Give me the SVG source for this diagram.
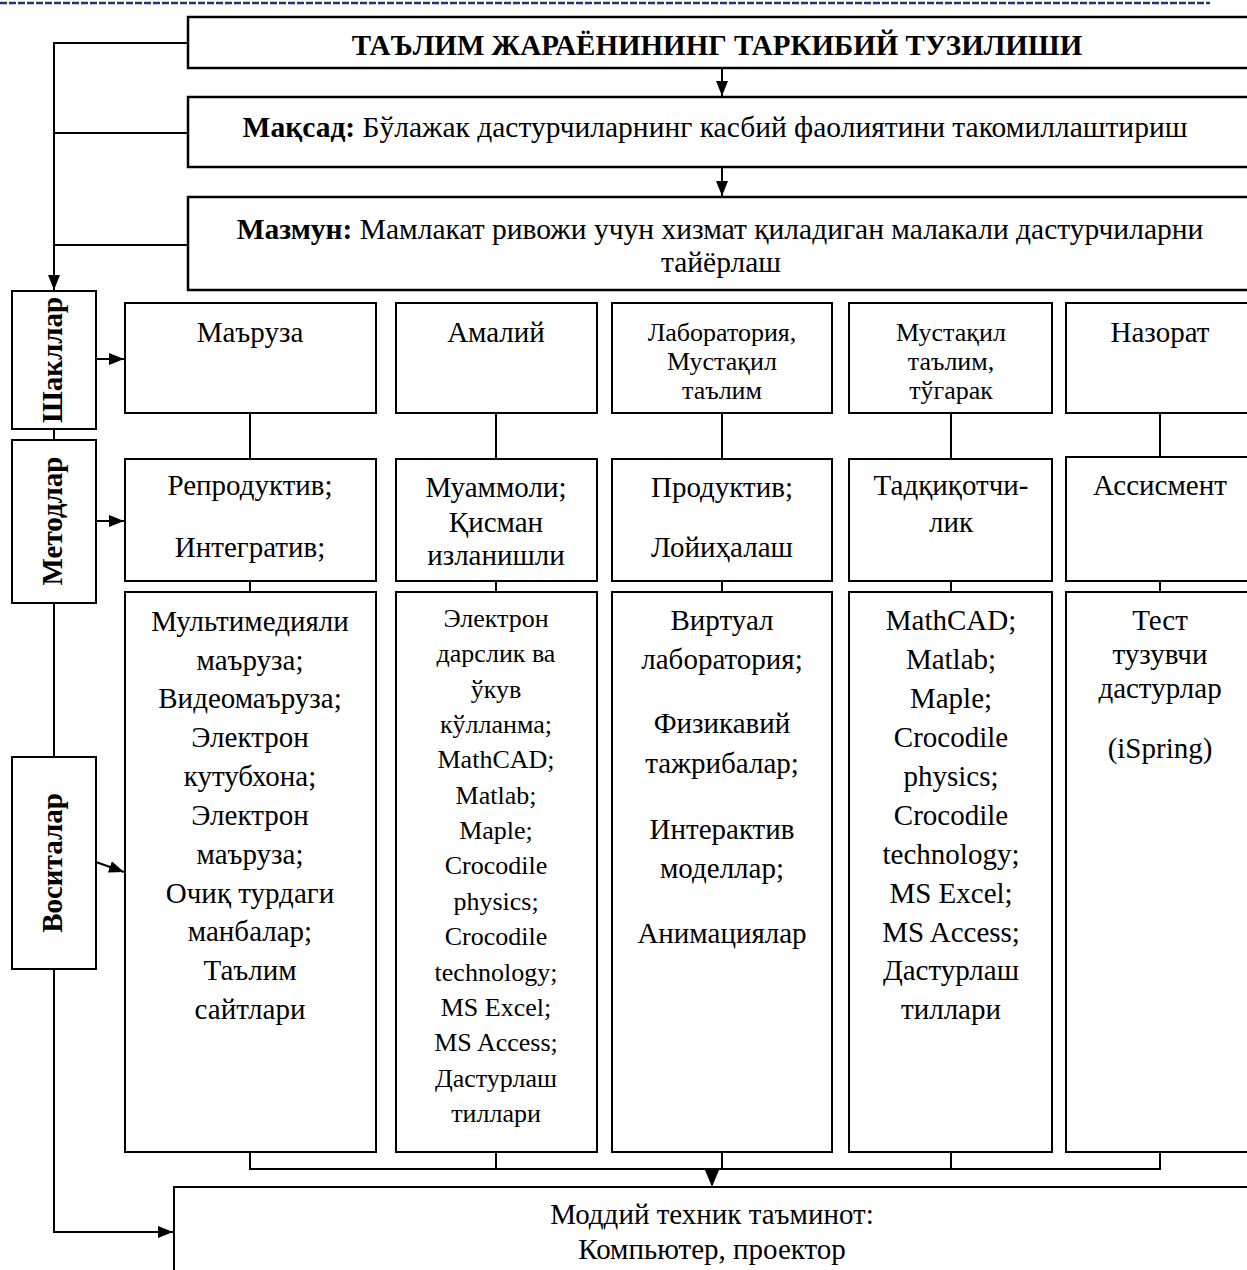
<svg xmlns="http://www.w3.org/2000/svg" width="1247" height="1270" viewBox="0 0 1247 1270">
<style>
.box{fill:#fff;stroke:#000;stroke-width:2}
.tb{fill:#fff;stroke:#000;stroke-width:2.5}
text{font-family:"Liberation Serif","Times New Roman",serif;font-size:29px;text-anchor:middle;fill:#000}
.s{font-size:26px}
.m{font-size:29.5px}
.b{font-weight:bold}
.c{stroke:#000;stroke-width:2;fill:none}
</style>
<defs>
<marker id="ah" viewBox="0 0 10 10" refX="10" refY="5" markerUnits="userSpaceOnUse" markerWidth="15" markerHeight="12" preserveAspectRatio="none" orient="auto">
<path d="M0,0 L10,5 L0,10 z" fill="#000"/>
</marker>
</defs>
<rect width="1247" height="1270" fill="#fff"/>
<line x1="0" y1="3" x2="1210" y2="3" stroke="#1F3864" stroke-width="2.5" stroke-dasharray="7 2"/>

<g id="connectors">
<path class="c" d="M188,43 H54 V290" marker-end="url(#ah)" stroke-width="2.5"/>
<line class="c" x1="54" y1="133" x2="188" y2="133"/>
<line class="c" x1="54" y1="245" x2="188" y2="245"/>
<line class="c" x1="722" y1="68" x2="722" y2="96" marker-end="url(#ah)"/>
<line class="c" x1="722" y1="167" x2="722" y2="196" marker-end="url(#ah)"/>
<line class="c" x1="54" y1="429" x2="54" y2="440"/>
<line class="c" x1="54" y1="603" x2="54" y2="757"/>
<path class="c" d="M54,969 V1232 H173" marker-end="url(#ah)"/>
<line class="c" x1="96" y1="359" x2="124" y2="359" marker-end="url(#ah)" stroke-width="2.5"/>
<line class="c" x1="96" y1="521" x2="124" y2="521" marker-end="url(#ah)" stroke-width="2.5"/>
<line class="c" x1="96" y1="862" x2="124" y2="872" marker-end="url(#ah)" stroke-width="2.5"/>
<line class="c" x1="250" y1="413" x2="250" y2="459"/>
<line class="c" x1="496" y1="413" x2="496" y2="459"/>
<line class="c" x1="722" y1="413" x2="722" y2="459"/>
<line class="c" x1="951" y1="413" x2="951" y2="459"/>
<line class="c" x1="1160" y1="413" x2="1160" y2="457"/>
<line class="c" x1="250" y1="581" x2="250" y2="592"/>
<line class="c" x1="496" y1="581" x2="496" y2="592"/>
<line class="c" x1="722" y1="581" x2="722" y2="592"/>
<line class="c" x1="951" y1="581" x2="951" y2="592"/>
<line class="c" x1="1160" y1="581" x2="1160" y2="592"/>
<path class="c" d="M250,1152 V1169 H1160 V1152"/>
<line class="c" x1="496" y1="1152" x2="496" y2="1169"/>
<line class="c" x1="722" y1="1152" x2="722" y2="1169"/>
<line class="c" x1="951" y1="1152" x2="951" y2="1169"/>
<line class="c" x1="496" y1="1169" x2="951" y2="1169" stroke-width="3.5"/>
<polygon points="705,1170 719,1170 712,1187" fill="#000"/>
</g>

<g id="title"><rect class="tb" x="188" y="17" width="1090" height="51"/>
<text class="b" x="717" y="55">ТАЪЛИМ ЖАРАЁНИНИНГ ТАРКИБИЙ ТУЗИЛИШИ</text></g>

<g id="maqsad"><rect class="tb" x="188" y="97" width="1090" height="70"/>
<text class="m" x="715" y="137"><tspan class="b">Мақсад:</tspan> Бўлажак дастурчиларнинг касбий фаолиятини такомиллаштириш</text></g>

<g id="mazmun"><rect class="tb" x="188" y="197" width="1090" height="93"/>
<text class="m" x="720" y="239"><tspan class="b">Мазмун:</tspan> Мамлакат ривожи учун хизмат қиладиган малакали дастурчиларни</text>
<text class="m" x="721" y="272">тайёрлаш</text></g>

<g id="shakllar"><rect class="box" x="12" y="291" width="84" height="138"/>
<text class="b" transform="translate(62,360) rotate(-90)">Шакллар</text></g>
<g id="metodlar"><rect class="box" x="12" y="440" width="84" height="163"/>
<text class="b" transform="translate(62,521) rotate(-90)">Методлар</text></g>
<g id="vositalar"><rect class="box" x="12" y="757" width="84" height="212"/>
<text class="b" transform="translate(62,863) rotate(-90)">Воситалар</text></g>

<g id="maruza"><rect class="box" x="125" y="303" width="251" height="110"/>
<text x="250" y="342">Маъруза</text></g>
<g id="amaliy"><rect class="box" x="396" y="303" width="201" height="110"/>
<text x="496" y="342">Амалий</text></g>
<g id="laboratoriya"><rect class="box" x="612" y="303" width="220" height="110"/>
<text class="s" x="722" y="341">Лаборатория,</text>
<text class="s" x="722" y="370">Мустақил</text>
<text class="s" x="722" y="399">таълим</text></g>
<g id="mustaqil"><rect class="box" x="849" y="303" width="203" height="110"/>
<text class="s" x="951" y="341">Мустақил</text>
<text class="s" x="951" y="370">таълим,</text>
<text class="s" x="951" y="399">тўгарак</text></g>
<g id="nazorat"><rect class="box" x="1066" y="303" width="200" height="110"/>
<text x="1160" y="342">Назорат</text></g>

<g id="reproduktiv"><rect class="box" x="125" y="459" width="251" height="122"/>
<text x="250" y="495">Репродуктив;</text>
<text x="250" y="557">Интегратив;</text></g>
<g id="muammoli"><rect class="box" x="396" y="459" width="201" height="122"/>
<text x="496" y="497">Муаммоли;</text>
<text x="496" y="532">Қисман</text>
<text x="496" y="565">изланишли</text></g>
<g id="produktiv"><rect class="box" x="612" y="459" width="220" height="122"/>
<text x="722" y="497">Продуктив;</text>
<text x="722" y="557">Лойиҳалаш</text></g>
<g id="tadqiqot"><rect class="box" x="849" y="459" width="203" height="122"/>
<text x="951" y="495">Тадқиқотчи-</text>
<text x="951" y="532">лик</text></g>
<g id="assisment"><rect class="box" x="1066" y="457" width="200" height="124"/>
<text x="1160" y="495">Ассисмент</text></g>

<g id="vosita1"><rect class="box" x="125" y="592" width="251" height="560"/>
<text x="250" y="631">Мультимедияли</text>
<text x="250" y="670">маъруза;</text>
<text x="250" y="708">Видеомаъруза;</text>
<text x="250" y="747">Электрон</text>
<text x="250" y="786">кутубхона;</text>
<text x="250" y="825">Электрон</text>
<text x="250" y="864">маъруза;</text>
<text x="250" y="903">Очиқ турдаги</text>
<text x="250" y="941">манбалар;</text>
<text x="250" y="980">Таълим</text>
<text x="250" y="1019">сайтлари</text></g>
<g id="vosita2"><rect class="box" x="396" y="592" width="201" height="560"/>
<text class="s" x="496" y="627">Электрон</text>
<text class="s" x="496" y="662">дарслик ва</text>
<text class="s" x="496" y="698">ўкув</text>
<text class="s" x="496" y="733">кўлланма;</text>
<text class="s" x="496" y="768">MathCAD;</text>
<text class="s" x="496" y="804">Matlab;</text>
<text class="s" x="496" y="839">Maple;</text>
<text class="s" x="496" y="874">Crocodile</text>
<text class="s" x="496" y="910">physics;</text>
<text class="s" x="496" y="945">Crocodile</text>
<text class="s" x="496" y="981">technology;</text>
<text class="s" x="496" y="1016">MS Excel;</text>
<text class="s" x="496" y="1051">MS Access;</text>
<text class="s" x="496" y="1087">Дастурлаш</text>
<text class="s" x="496" y="1122">тиллари</text></g>
<g id="vosita3"><rect class="box" x="612" y="592" width="220" height="560"/>
<text x="722" y="630">Виртуал</text>
<text x="722" y="669">лаборатория;</text>
<text x="722" y="733">Физикавий</text>
<text x="722" y="773">тажрибалар;</text>
<text x="722" y="839">Интерактив</text>
<text x="722" y="878">моделлар;</text>
<text x="722" y="943">Анимациялар</text></g>
<g id="vosita4"><rect class="box" x="849" y="592" width="203" height="560"/>
<text x="951" y="630">MathCAD;</text>
<text x="951" y="669">Matlab;</text>
<text x="951" y="708">Maple;</text>
<text x="951" y="747">Crocodile</text>
<text x="951" y="786">physics;</text>
<text x="951" y="825">Crocodile</text>
<text x="951" y="864">technology;</text>
<text x="951" y="903">MS Excel;</text>
<text x="951" y="942">MS Access;</text>
<text x="951" y="980">Дастурлаш</text>
<text x="951" y="1019">тиллари</text></g>
<g id="vosita5"><rect class="box" x="1066" y="592" width="200" height="560"/>
<text x="1160" y="630">Тест</text>
<text x="1160" y="664">тузувчи</text>
<text x="1160" y="698">дастурлар</text>
<text x="1160" y="758">(iSpring)</text></g>

<g id="moddiy"><rect class="box" x="174" y="1187" width="1100" height="120"/>
<text x="712" y="1224">Моддий техник таъминот:</text>
<text x="712" y="1259">Компьютер, проектор</text></g>
</svg>
